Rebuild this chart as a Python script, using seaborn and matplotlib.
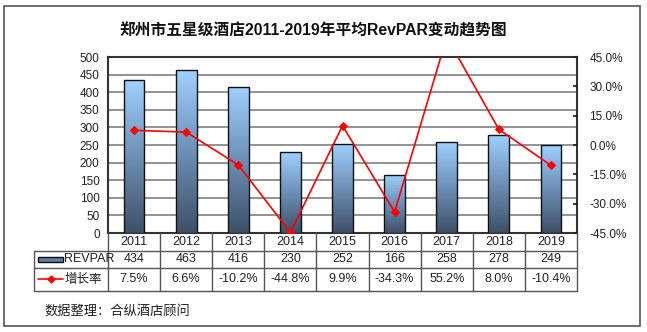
import numpy as np
import pandas as pd
import matplotlib
matplotlib.use("Agg")
import matplotlib.pyplot as plt
import seaborn as sns
from matplotlib.lines import Line2D
from matplotlib.patches import Rectangle
from matplotlib.transforms import blended_transform_factory
from matplotlib.colors import LinearSegmentedColormap

years = ["2011", "2012", "2013", "2014", "2015", "2016", "2017", "2018", "2019"]
revpar = [434, 463, 416, 230, 252, 166, 258, 278, 249]
growth = [7.5, 6.6, -10.2, -44.8, 9.9, -34.3, 55.2, 8.0, -10.4]
right_ticks = [-45, -30, -15, 0, 15, 30, 45]
title = "郑州市五星级酒店2011-2019年平均RevPAR变动趋势图"
series_bar = "REVPAR"
series_line = "增长率"
footnote = "数据整理：合纵酒店顾问"

sns.set_theme(style="white")
plt.rcParams['font.family'] = ['Liberation Sans', 'Noto Sans CJK SC', 'DejaVu Sans']

W, H = 647, 332
fig = plt.figure(figsize=(W / 100, H / 100), dpi=100)

def fx(x):
    return x / W

def fy(y):
    return 1 - y / H

L, R, T, B = 108, 577, 57, 233
ax = fig.add_axes([fx(L), fy(B), fx(R) - fx(L), fy(T) - fy(B)])

df = pd.DataFrame({"year": years, "revpar": revpar, "growth": np.array(growth) / 100})
sns.barplot(data=df, x="year", y="revpar", ax=ax, width=0.4, color="#7fb3e6",
            edgecolor="#111111", linewidth=1.0, zorder=3)

cmap = LinearSegmentedColormap.from_list("g", ["#3e5068", "#6d8fb5", "#9fd0ff"])
grad = np.linspace(0, 1, 256).reshape(-1, 1)
for p in ax.patches:
    x0, y0 = p.get_x(), p.get_y()
    w, h = p.get_width(), p.get_height()
    im = ax.imshow(grad, cmap=cmap, origin="lower", aspect="auto",
                   extent=[x0, x0 + w, y0, y0 + h], zorder=3)
    im.set_clip_path(p)
    p.set_facecolor("none")
    p.set_zorder(4)

ax.set_xlim(-0.5, 8.5)
ax.set_ylim(0, 500)
ax.set_yticks(range(0, 501, 50))
ax.set_xticks([])
ax.set_xlabel("")
ax.set_ylabel("")
ax.yaxis.grid(True, color="#808080", linewidth=1.2, zorder=0)
ax.set_axisbelow(True)
ax.tick_params(axis="y", labelsize=8.5, colors="#222222", length=0, pad=6)
for s in ax.spines.values():
    s.set_color("#333333")
    s.set_linewidth(1.5)

ax2 = ax.twinx()
sns.lineplot(x=np.arange(len(years)), y=df["growth"], ax=ax2, color="#ff0000",
             linewidth=1.2, marker="D", markersize=4, markeredgecolor="#ff0000", zorder=5)
ax2.set_ylim(-0.45, 0.45)
ax2.set_yticks([v / 100 for v in right_ticks])
ax2.set_yticklabels([f"{v:.1f}%" for v in right_ticks])
ax2.set_ylabel("")
ax2.set_xlim(-0.5, 8.5)
ax2.tick_params(axis="y", labelsize=8.5, colors="#222222", direction="in", length=3, pad=9)
for s in ax2.spines.values():
    s.set_visible(False)

# title
fig.text(fx(313), fy(31), title, ha="center", va="center", fontsize=11.3,
         fontweight="bold", color="#111111")

# data table
tb = blended_transform_factory(ax.transData, fig.transFigure)
lc = "#555555"
rows_y = [233, 251, 268, 291]
TL = 34
for yy in rows_y[1:]:
    fig.add_artist(Line2D([fx(TL), fx(R)], [fy(yy), fy(yy)], color=lc, linewidth=1.0))
fig.add_artist(Line2D([fx(TL), fx(TL)], [fy(251), fy(291)], color=lc, linewidth=1.0))
fig.add_artist(Line2D([fx(L), fx(L)], [fy(233), fy(291)], color=lc, linewidth=1.0))
fig.add_artist(Line2D([fx(R), fx(R)], [fy(233), fy(291)], color=lc, linewidth=1.0))
for i in range(len(years) - 1):
    fig.add_artist(Line2D([i + 0.5, i + 0.5], [fy(233), fy(291)], color=lc,
                          linewidth=1.0, transform=tb))

fs = 9
for i, yv in enumerate(years):
    fig.text(i, fy(242), yv, transform=tb, ha="center", va="center", fontsize=fs, color="#222222")
    fig.text(i, fy(259.5), f"{revpar[i]}", transform=tb, ha="center", va="center", fontsize=fs, color="#222222")
    fig.text(i, fy(279.5), f"{growth[i]:.1f}%", transform=tb, ha="center", va="center", fontsize=fs, color="#222222")

# legend swatches
fig.add_artist(Rectangle((fx(38), fy(261.5)), fx(63) - fx(38), fy(256.5) - fy(261.5),
                         facecolor="#5f7fa3", edgecolor="#111111", linewidth=1.0))
fig.text(fx(64), fy(259.5), series_bar, ha="left", va="center", fontsize=fs, color="#222222")
fig.add_artist(Line2D([fx(38), fx(63)], [fy(279), fy(279)], color="#ff0000", linewidth=1.2))
fig.add_artist(Line2D([fx(51)], [fy(279)], color="#ff0000", marker="D", markersize=3.5))
fig.text(fx(65), fy(279.5), series_line, ha="left", va="center", fontsize=fs, color="#222222")

# footnote
fig.text(fx(44), fy(311), footnote, ha="left", va="center", fontsize=9.5, color="#222222")

# border
fig.add_artist(Rectangle((fx(4), fy(326)), fx(640) - fx(4), fy(6) - fy(326),
                         facecolor="none", edgecolor="#555555", linewidth=1.2))

fig.savefig("out.png", dpi=100)
